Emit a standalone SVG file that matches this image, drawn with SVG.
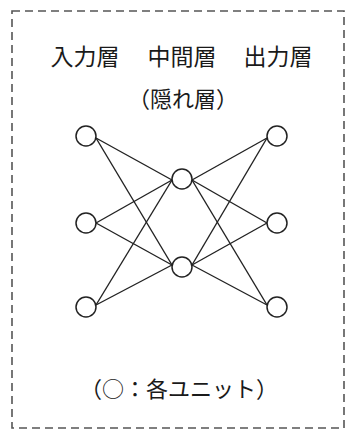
<svg xmlns="http://www.w3.org/2000/svg" width="346" height="431" viewBox="0 0 346 431">
<style>
.t{font-family:"Noto Sans CJK JP","Noto Sans CJK SC",sans-serif;fill:#1a1a1a;text-anchor:middle}
.n{fill:#fff;stroke:#222;stroke-width:1.5}
.e{stroke:#222;stroke-width:1.4;fill:none}
</style>
<rect x="0" y="0" width="346" height="431" fill="#fff"/>
<rect x="12" y="11" width="332" height="417" fill="none" stroke="#555" stroke-width="1.6" stroke-dasharray="8,5"/>
<text class="t" x="85" y="65" font-size="23">入力層</text>
<text class="t" x="182" y="65" font-size="23">中間層</text>
<text class="t" x="278" y="65" font-size="23">出力層</text>
<text class="t" x="183" y="107" font-size="22">（隠れ層）</text>
<text class="t" x="179" y="397" font-size="22">（○：各ユニット）</text>
<g id="connectors">
<line class="e" x1="96" y1="138" x2="172" y2="180"/>
<line class="e" x1="96" y1="138" x2="172" y2="265"/>
<line class="e" x1="96" y1="223" x2="172" y2="180"/>
<line class="e" x1="96" y1="223" x2="172" y2="265"/>
<line class="e" x1="96" y1="305" x2="172" y2="180"/>
<line class="e" x1="96" y1="305" x2="172" y2="265"/>
<line class="e" x1="192" y1="180" x2="267" y2="138"/>
<line class="e" x1="192" y1="180" x2="267" y2="223"/>
<line class="e" x1="192" y1="180" x2="267" y2="305"/>
<line class="e" x1="192" y1="265" x2="267" y2="138"/>
<line class="e" x1="192" y1="265" x2="267" y2="223"/>
<line class="e" x1="192" y1="265" x2="267" y2="305"/>
</g>
<g id="in1"><circle class="n" cx="86" cy="136" r="10"/></g>
<g id="in2"><circle class="n" cx="86" cy="223" r="10"/></g>
<g id="in3"><circle class="n" cx="86" cy="307" r="10"/></g>
<g id="h1"><circle class="n" cx="182" cy="179" r="10"/></g>
<g id="h2"><circle class="n" cx="182" cy="267" r="10"/></g>
<g id="out1"><circle class="n" cx="277" cy="136" r="10"/></g>
<g id="out2"><circle class="n" cx="277" cy="223" r="10"/></g>
<g id="out3"><circle class="n" cx="277" cy="307" r="10"/></g>
</svg>
